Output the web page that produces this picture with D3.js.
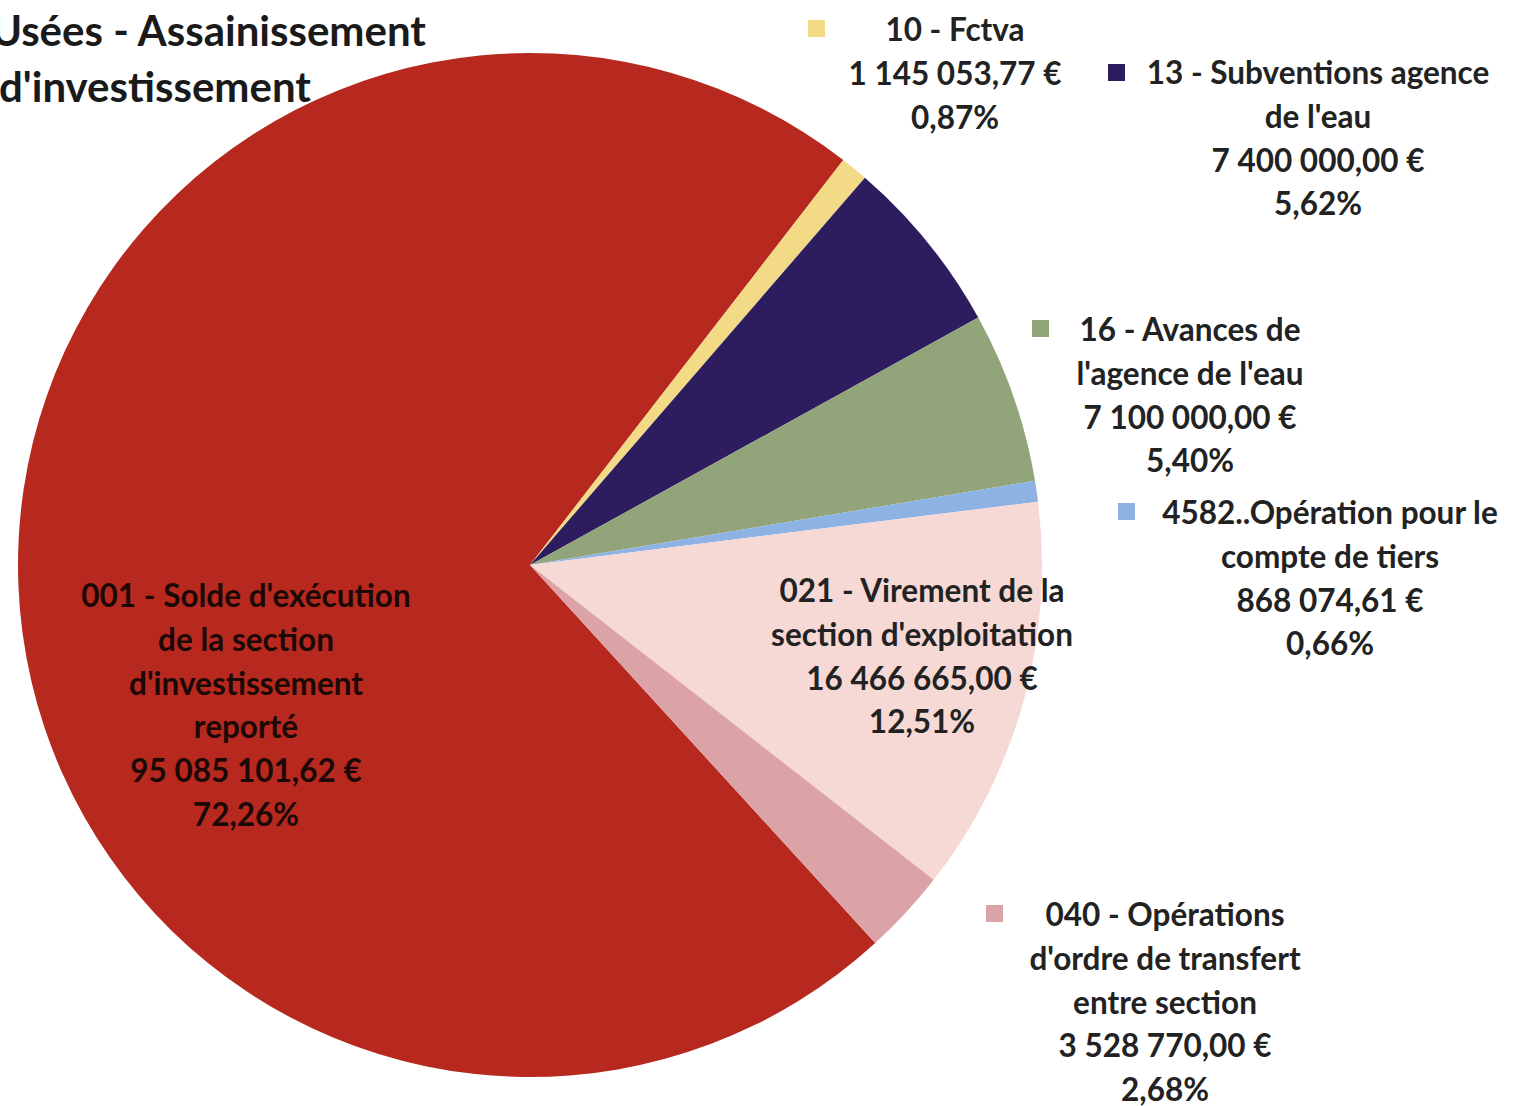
<!DOCTYPE html>
<html>
<head>
<meta charset="utf-8">
<script src="https://cdn.jsdelivr.net/npm/d3@7"></script>
<style>
  html, body { margin: 0; padding: 0; background: #fff; overflow: hidden; }
  svg { display: block; }
  text { font-family: Lato, "Open Sans", sans-serif; }
</style>
</head>
<body>
<div id="root"></div>
<script>
// slices in clockwise order, starting where 001 begins
const codes = ['001', '10', '13', '16', '4582', '021', '040']
const names = [
  ["001 - Solde d'exécution", 'de la section', "d'investissement", 'reporté'],
  ['10 - Fctva'],
  ['13 - Subventions agence', "de l'eau"],
  ['16 - Avances de', "l'agence de l'eau"],
  ['4582..Opération pour le', 'compte de tiers'],
  ['021 - Virement de la', "section d'exploitation"],
  ['040 - Opérations', "d'ordre de transfert", 'entre section']
]
const amounts = ['95 085 101,62 €', '1 145 053,77 €', '7 400 000,00 €', '7 100 000,00 €', '868 074,61 €', '16 466 665,00 €', '3 528 770,00 €']
const values = [95085101.62, 1145053.77, 7400000, 7100000, 868074.61, 16466665, 3528770]
const percents = ['72,26%', '0,87%', '5,62%', '5,40%', '0,66%', '12,51%', '2,68%']
const colors = ['#b7291f', '#f3da86', '#2d1c5e', '#92a47a', '#8fb2e4', '#f6d8d5', '#dba3a6']
const titleLines = ['Usées - Assainissement', "d'investissement"]

const W = 1513, H = 1106
const cx = 530, cy = 565, R = 512

// label placement: centre x, first line y, legend key left/top (null = none)
const labelPos = {
  '001': { x: 246, y: 596, key: null, fill: '#1c0805' },
  '10': { x: 955, y: 30, key: [808, 20] },
  '13': { x: 1318, y: 73, key: [1108, 64] },
  '16': { x: 1190, y: 330, key: [1032, 320] },
  '4582': { x: 1330, y: 513, key: [1118, 503] },
  '021': { x: 922, y: 591, key: null },
  '040': { x: 1165, y: 915, key: [986, 905] }
}
const lineH = 43.8

const svg = d3.select('#root').append('svg')
  .attr('width', W)
  .attr('height', H)

const pie = d3.pie()
  .sort(null)
  .value(d => d)
  .startAngle(137.6 * Math.PI / 180)
  .endAngle((137.6 + 360) * Math.PI / 180)

const arc = d3.arc().innerRadius(0).outerRadius(R)

svg.append('g')
  .attr('transform', `translate(${cx},${cy})`)
  .selectAll('path')
  .data(pie(values))
  .join('path')
  .attr('d', arc)
  .attr('fill', (d, i) => colors[i])

// title (cut off at the left edge like the scan)
svg.append('g')
  .selectAll('text')
  .data(titleLines)
  .join('text')
  .attr('x', (d, i) => i === 0 ? 426 : 311)
  .attr('y', (d, i) => 46 + i * 56)
  .attr('text-anchor', 'end')
  .attr('font-size', 42)
  .attr('font-weight', 700)
  .attr('fill', '#1a1a1a')
  .text(d => d)

// data labels
codes.forEach((code, i) => {
  const p = labelPos[code]
  const lines = names[i].concat([amounts[i], percents[i]])
  const g = svg.append('g')
  g.selectAll('text')
    .data(lines)
    .join('text')
    .attr('x', p.x)
    .attr('y', (d, j) => p.y + j * lineH)
    .attr('dy', '0.35em')
    .attr('text-anchor', 'middle')
    .attr('font-size', 31.5)
    .attr('font-weight', 700)
    .attr('fill', p.fill || '#222')
    .text(d => d)

  if (p.key) {
    g.append('rect')
      .attr('x', p.key[0])
      .attr('y', p.key[1])
      .attr('width', 17)
      .attr('height', 17)
      .attr('fill', colors[i])
  }
})
</script>
</body>
</html>
